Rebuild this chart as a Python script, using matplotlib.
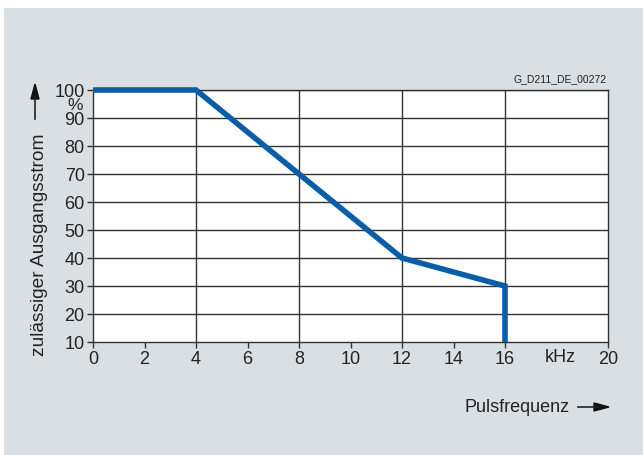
import matplotlib.pyplot as plt
from matplotlib.patches import Rectangle

plt.rcParams['font.family'] = ['Liberation Sans', 'DejaVu Sans']

# derating curve: permissible output current vs pulse frequency
freq_khz = [0, 4, 8, 12, 16, 16]
current_pct = [100, 100, 70, 40, 30, 10]

x_ticks = [0, 2, 4, 6, 8, 10, 12, 14, 16, 20]
x_grid = [4, 8, 12, 16]
y_ticks = [10, 20, 30, 40, 50, 60, 70, 80, 90, 100]

W, H = 643, 456
fig = plt.figure(figsize=(W / 100, H / 100), dpi=100)
fig.patch.set_facecolor("white")

# grey panel behind everything
fig.patches.append(Rectangle((4 / W, 0), 1 - 4 / W, 1 - 9 / H,
                             transform=fig.transFigure, facecolor="#dadfe3",
                             edgecolor="none", zorder=-5))

ax = fig.add_axes([93 / W, 1 - 343 / H, (608 - 93) / W, (343 - 91) / H])
ax.set_facecolor("white")
ax.set_xlim(0, 20)
ax.set_ylim(10, 100)

for x in x_grid:
    ax.axvline(x, color="#333333", lw=1.0, zorder=1)
for y in y_ticks[1:]:
    ax.axhline(y, color="#333333", lw=1.0, zorder=1)

ax.plot(freq_khz, current_pct, color="#0a5ea8", lw=4, solid_joinstyle="miter",
        solid_capstyle="butt", zorder=3, clip_on=False)

ax.set_xticks(x_ticks)
ax.set_xticklabels([str(v) for v in x_ticks])
ax.set_yticks(y_ticks)
ax.set_yticklabels([str(v) for v in y_ticks])
ax.tick_params(direction="out", length=4, width=1, color="#333333",
               labelsize=13, labelcolor="#222222", pad=2)

for s in ax.spines.values():
    s.set_color("#333333")
    s.set_linewidth(1.0)

tc = "#222222"
fig.text(560 / W, 1 - 357 / H, "kHz", ha="center", va="center", fontsize=13, color=tc)
fig.text(83 / W, 1 - 106 / H, "%", ha="right", va="center", fontsize=12.5, color=tc)
fig.text(607 / W, 1 - 79 / H, "G_D211_DE_00272", ha="right", va="center",
         fontsize=7.5, color=tc)

# axis titles with arrows
fig.text(570 / W, 1 - 408 / H, "Pulsfrequenz", ha="right", va="center",
         fontsize=13, color=tc)
fig.add_artist(plt.Line2D([578 / W, 598 / W], [1 - 408 / H, 1 - 408 / H],
                          color=tc, lw=1.2))
fig.patches.append(plt.Polygon([[594 / W, 1 - 404 / H], [609 / W, 1 - 408 / H],
                                [594 / W, 1 - 412 / H]], closed=True,
                               transform=fig.transFigure, color="#111111"))

fig.text(40 / W, 1 - 356 / H, "zulässiger Ausgangsstrom", rotation=90,
         ha="center", va="bottom", fontsize=13.8, color=tc)
fig.add_artist(plt.Line2D([35 / W, 35 / W], [1 - 120 / H, 1 - 98 / H],
                          color=tc, lw=1.2))
fig.patches.append(plt.Polygon([[31 / W, 1 - 100 / H], [35 / W, 1 - 85 / H],
                                [39 / W, 1 - 100 / H]], closed=True,
                               transform=fig.transFigure, color="#111111"))

fig.savefig("out.png", dpi=100)
